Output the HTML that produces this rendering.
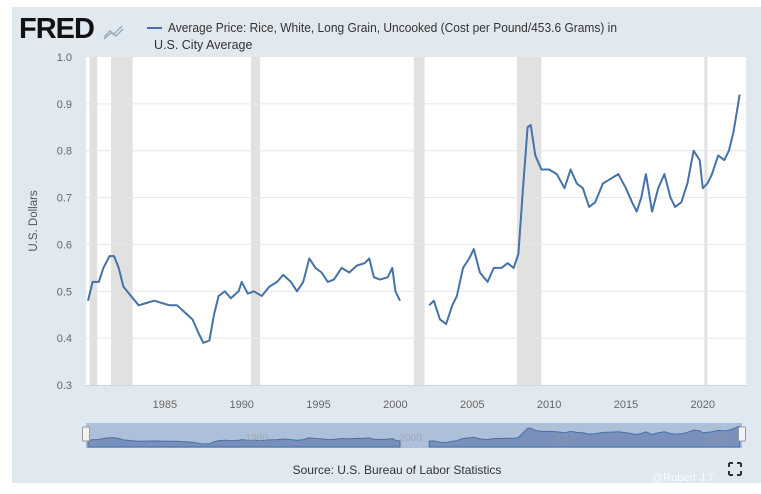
<!DOCTYPE html>
<html><head><meta charset="utf-8"><style>
body{margin:0;background:#fff;width:761px;height:494px;overflow:hidden;font-family:"Liberation Sans",sans-serif}
#wrap{position:absolute;left:12px;top:7px;width:749px;height:476px;background:#e1e9f0}
</style></head><body>
<div id="wrap"></div>
<svg id="svg" width="761" height="494" style="position:absolute;left:0;top:0"></svg>
<script>
const years=[1980.0,1980.3,1980.7,1981.0,1981.4,1981.7,1982.0,1982.3,1982.8,1983.3,1983.8,1984.3,1984.8,1985.3,1985.8,1986.3,1986.8,1987.2,1987.5,1987.9,1988.2,1988.5,1988.9,1989.3,1989.8,1990.0,1990.4,1990.8,1991.3,1991.8,1992.3,1992.7,1993.2,1993.6,1994.0,1994.4,1994.8,1995.2,1995.6,1996.0,1996.5,1997.0,1997.5,1998.0,1998.3,1998.6,1999.0,1999.5,1999.8,2000.0,2000.3,2001.0,2002.2,2002.5,2002.9,2003.3,2003.7,2004.0,2004.4,2004.8,2005.1,2005.5,2006.0,2006.4,2006.9,2007.3,2007.7,2008.0,2008.3,2008.6,2008.8,2009.1,2009.5,2010.0,2010.5,2011.0,2011.4,2011.8,2012.2,2012.6,2013.0,2013.5,2014.0,2014.5,2015.0,2015.4,2015.7,2016.0,2016.3,2016.7,2017.1,2017.5,2017.9,2018.2,2018.6,2019.0,2019.4,2019.8,2020.0,2020.3,2020.6,2021.0,2021.4,2021.7,2022.0,2022.2,2022.4];
const prices=[0.48,0.52,0.52,0.55,0.575,0.575,0.55,0.51,0.49,0.47,0.475,0.48,0.475,0.47,0.47,0.455,0.44,0.41,0.39,0.395,0.45,0.49,0.50,0.485,0.50,0.52,0.495,0.50,0.49,0.51,0.52,0.535,0.52,0.50,0.52,0.57,0.55,0.54,0.52,0.525,0.55,0.54,0.555,0.56,0.57,0.53,0.525,0.53,0.55,0.50,0.48,null,0.47,0.48,0.44,0.43,0.47,0.49,0.55,0.57,0.59,0.54,0.52,0.55,0.55,0.56,0.55,0.58,0.72,0.85,0.855,0.79,0.76,0.76,0.75,0.72,0.76,0.73,0.72,0.68,0.69,0.73,0.74,0.75,0.72,0.69,0.67,0.70,0.75,0.67,0.72,0.75,0.70,0.68,0.69,0.73,0.80,0.78,0.72,0.73,0.75,0.79,0.78,0.80,0.84,0.88,0.92];
const recessions=[[1980.1,1980.6],[1981.5,1982.9],[1990.6,1991.2],[2001.2,2001.9],[2007.9,2009.5],[2020.1,2020.3]];
const yTicks=[0.3,0.4,0.5,0.6,0.7,0.8,0.9,1.0];
const xTicks=[1985,1990,1995,2000,2005,2010,2015,2020];
const NS='http://www.w3.org/2000/svg',svg=document.getElementById('svg');
function el(t,a,p){const e=document.createElementNS(NS,t);for(const k in a)e.setAttribute(k,a[k]);(p||svg).appendChild(e);return e;}
const X0=86,X1=746,Y0=57,Y1=385;
const x=v=>88+(v-1980)*15.37;
const y=v=>Y1-(v-0.3)/0.7*(Y1-Y0);
let e=el('rect',{x:X0,y:Y0,width:X1-X0,height:Y1-Y0,fill:'#fff'});


recessions.forEach(r=>{const b=el('rect',{x:x(r[0]),y:Y0,width:x(r[1])-x(r[0]),height:Y1-Y0,fill:'#e1e1e1'});

});
yTicks.forEach(t=>{if(t>0.3&&t<1.0){const g=el('line',{x1:X0,x2:X1,y1:y(t),y2:y(t),stroke:'#e6e6e6'});

}
const l=el('text',{x:72,y:y(t)+4,'text-anchor':'end','font-size':11,fill:'#666'});l.textContent=t.toFixed(1);

});
el('line',{x1:X0,x2:X1,y1:Y1+0.5,y2:Y1+0.5,stroke:'#ccd6eb'});
xTicks.forEach(t=>{const l=el('text',{x:x(t),y:408,'text-anchor':'middle','font-size':11,fill:'#666'});l.textContent=t;

});
function pathFor(fx,fy){let d='',pen=false;years.forEach((yr,i)=>{const v=prices[i];if(v==null){pen=false;return;}d+=(pen?'L':'M')+fx(yr).toFixed(1)+','+fy(v).toFixed(1);pen=true;});return d;}
e=el('path',{d:pathFor(x,y),fill:'none',stroke:'#4572a7','stroke-width':2,'stroke-linejoin':'round'});


e=el('text',{x:0,y:0,transform:'translate(37,221) rotate(-90)','text-anchor':'middle','font-size':11.5,fill:'#555'});e.textContent='U.S. Dollars';


// navigator
const ny=v=>447-(v-0.3)/0.65*22;
e=el('rect',{x:86,y:423,width:656,height:25,fill:'#aebfd9'});


let segs=[[],[]];let si=0;years.forEach((yr,i)=>{if(prices[i]==null){si=1;return;}segs[si].push([x(yr),ny(prices[i])]);});
segs.forEach(s=>{if(!s.length)return;let d='M'+s[0][0]+',447';s.forEach(p=>d+='L'+p[0].toFixed(1)+','+p[1].toFixed(1));d+='L'+s[s.length-1][0]+',447Z';
const a=el('path',{d:d,fill:'#7890bb',stroke:'#4572a7','stroke-width':1});

});
[[1990,'1990'],[2000,'2000'],[2010,'2010'],[2020,'2020']].forEach(t=>{const l=el('text',{x:x(t[0])+4,y:441,'font-size':10,fill:'#999','fill-opacity':0.6});l.textContent=t[1];

});
[86,742].forEach(hx=>{const h=el('rect',{x:hx-3.5,y:427,width:7,height:14,fill:'#f2f2f2',stroke:'#999',rx:1});

});
// title/legend
e=el('text',{x:19,y:38,'font-size':29,'font-weight':'bold',fill:'#111','letter-spacing':'-1'});e.textContent='FRED';


e=el('path',{d:'M104,37 L110,31 L114,34 L122,26 M104,39 L111,33 L116,36 L123,29',fill:'none',stroke:'#9ab','stroke-width':1.3});


e=el('line',{x1:147,x2:162,y1:28,y2:28,stroke:'#4572a7','stroke-width':2});


e=el('text',{x:168,y:32,'font-size':12.5,fill:'#333',textLength:449,lengthAdjust:'spacingAndGlyphs'});e.textContent='Average Price: Rice, White, Long Grain, Uncooked (Cost per Pound/453.6 Grams) in';


e=el('text',{x:154,y:49,'font-size':12.5,fill:'#333'});e.textContent='U.S. City Average';


e=el('text',{x:397,y:474,'text-anchor':'middle','font-size':12,fill:'#333'});e.textContent='Source: U.S. Bureau of Labor Statistics';


e=el('text',{x:652,y:481,'font-size':11,fill:'#fff','fill-opacity':0.8});e.textContent='@Robert J.T';


e=el('path',{d:'M729,463h4M729,463v4M741,463h-4M741,463v4M729,475h4M729,475v-4M741,475h-4M741,475v-4',stroke:'#333','stroke-width':2,fill:'none'});


</script>
</body></html>
